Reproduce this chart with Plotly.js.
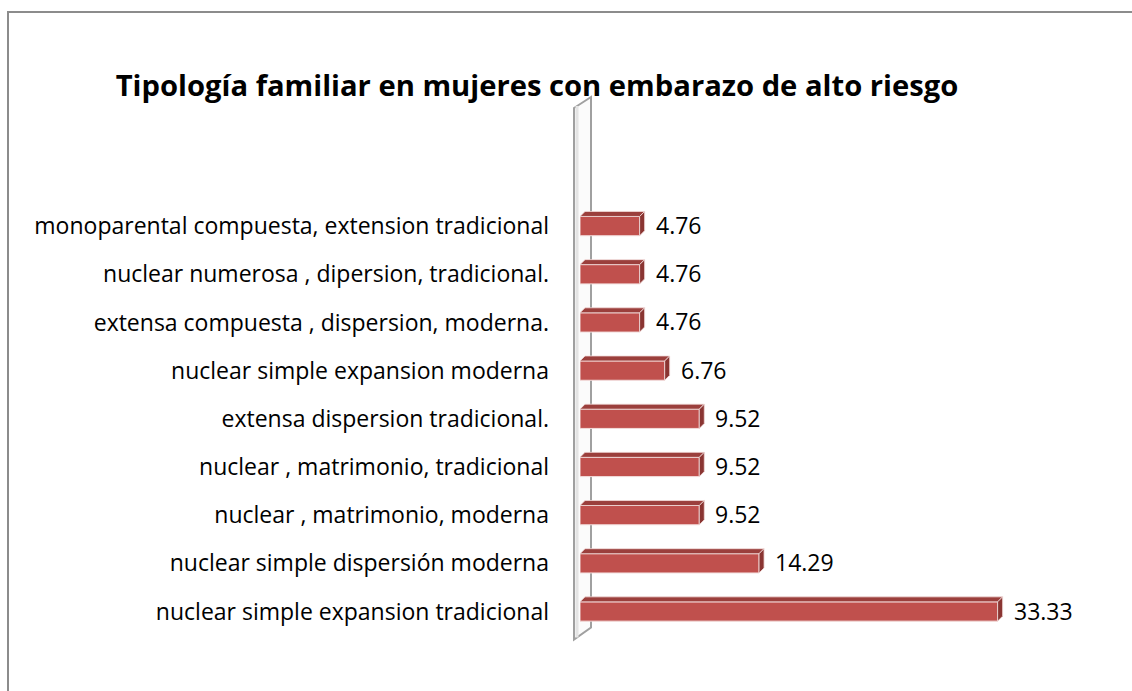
<!DOCTYPE html>
<html>
<head>
<meta charset="utf-8">
<script src="https://cdn.plot.ly/plotly-3.0.1.min.js"></script>
<style>html,body{margin:0;padding:0;background:#fff}#chart{width:1132px;height:691px}</style>
</head>
<body>
<div id="chart"></div>
<script>
const categories = [
  "nuclear simple expansion tradicional",
  "nuclear simple dispersión moderna",
  "nuclear , matrimonio, moderna",
  "nuclear , matrimonio, tradicional",
  "extensa dispersion tradicional.",
  "nuclear simple expansion moderna",
  "extensa compuesta , dispersion, moderna.",
  "nuclear numerosa , dipersion, tradicional.",
  "monoparental compuesta, extension tradicional"
];
const values = [33.33, 14.29, 9.52, 9.52, 9.52, 6.76, 4.76, 4.76, 4.76];
const valueLabels = ["33.33", "14.29", "9.52", "9.52", "9.52", "6.76", "4.76", "4.76", "4.76"];

const W = 1132, H = 691;
const mL = 580, mR = 32, mT = 96, mB = 52.5;
const xMax = 41.5;
const yMin = -0.55, yMax = 10.7;
const plotW = W - mL - mR, plotH = H - mT - mB;
const pxX = plotW / xMax, pxY = plotH / (yMax - yMin);
const barW = 0.4;
const depthX = 5 / pxX, depthY = 5 / pxY;
const FONT = '"Open Sans", Lato, sans-serif';

const idx = categories.map((c, i) => i);

const shapes = [];
const px2paperX = p => (p - mL) / plotW;
const px2paperY = p => (H - mB - p) / plotH;
// chart border (top + left)
shapes.push({type: 'path', xref: 'paper', yref: 'paper',
  path: `M ${px2paperX(8)},${px2paperY(700)} L ${px2paperX(8)},${px2paperY(12)} L ${px2paperX(1140)},${px2paperY(12)}`,
  line: {color: '#8c8c8c', width: 2}, layer: 'below'});
// 3D wall
shapes.push({type: 'path', xref: 'paper', yref: 'paper',
  path: `M ${px2paperX(574)},${px2paperY(108)} L ${px2paperX(591)},${px2paperY(97)} L ${px2paperX(591)},${px2paperY(628)} L ${px2paperX(574)},${px2paperY(640)} Z`,
  fillcolor: '#fbfbfb', line: {color: '#a0a0a0', width: 2}, layer: 'below'});
shapes.push({type: 'line', xref: 'paper', yref: 'paper',
  x0: px2paperX(577), x1: px2paperX(577), y0: px2paperY(106), y1: px2paperY(638),
  line: {color: '#e4e4e4', width: 3}, layer: 'below'});

// 3D faces of bars (computed from data)
values.forEach((v, i) => {
  const yt = i + barW / 2;
  shapes.push({type: 'path', xref: 'x', yref: 'y',
    path: `M 0,${yt} L ${v},${yt} L ${v + depthX},${yt + depthY} L ${depthX},${yt + depthY} Z`,
    fillcolor: '#9b3f3c', line: {color: '#f2dcdb', width: 0.8}, layer: 'above'});
  shapes.push({type: 'path', xref: 'x', yref: 'y',
    path: `M ${v},${i - barW / 2} L ${v},${yt} L ${v + depthX},${yt + depthY} L ${v + depthX},${i - barW / 2 + depthY} Z`,
    fillcolor: '#8a3532', line: {color: '#f2dcdb', width: 0.8}, layer: 'above'});
});

const annotations = values.map((v, i) => ({
  x: v, y: i, xref: 'x', yref: 'y', text: valueLabels[i], showarrow: false,
  xanchor: 'left', yanchor: 'middle', xshift: 14, yshift: 1,
  font: {family: FONT, size: 23, color: '#000'}
}));

const trace = {
  type: 'bar', orientation: 'h', x: values, y: idx, width: barW,
  marker: {color: '#c0504d', line: {color: '#f2dcdb', width: 1}},
  hoverinfo: 'skip'
};

const layout = {
  width: W, height: H,
  margin: {l: mL, r: mR, t: mT, b: mB},
  paper_bgcolor: '#fff', plot_bgcolor: 'rgba(0,0,0,0)',
  showlegend: false,
  title: {text: '<b>Tipología familiar en mujeres con embarazo de alto riesgo</b>',
    font: {family: FONT, size: 29.2, color: '#000'},
    xref: 'container', x: 537 / W, xanchor: 'center',
    yref: 'container', y: 1 - 86 / H, yanchor: 'middle'},
  xaxis: {range: [0, xMax], visible: false, fixedrange: true},
  yaxis: {range: [yMin, yMax], tickvals: idx, ticktext: categories,
    showgrid: false, zeroline: false, showline: false, ticks: '',
    ticklabelstandoff: 30,
    tickfont: {family: FONT, size: 23, color: '#000'}},
  shapes: shapes,
  annotations: annotations
};

Plotly.newPlot('chart', [trace], layout, {displayModeBar: false, staticPlot: true});
</script>
</body>
</html>
